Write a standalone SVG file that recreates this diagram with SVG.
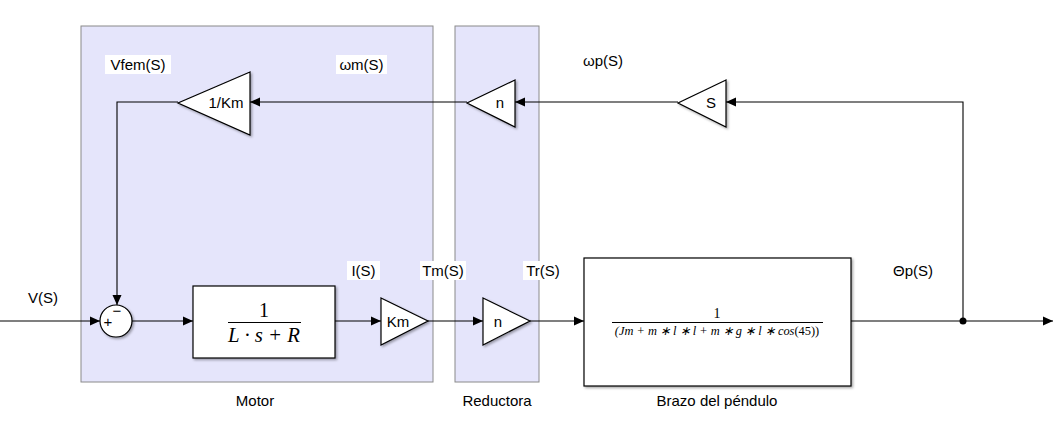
<svg xmlns="http://www.w3.org/2000/svg" width="1055" height="423" viewBox="0 0 1055 423">
<style>
.sub{fill:#e5e5fb;stroke:#8a8a8a;stroke-width:1}
.blk{fill:#fff;stroke:#000;stroke-width:1.2;filter:url(#sh)}
.ln{fill:none;stroke:#000;stroke-width:1.1}
.t{font-family:"Liberation Sans",Arial,sans-serif;font-size:15px;fill:#000}
.lb{fill:#fff}
.m{font-family:"Liberation Serif","Times New Roman",serif;fill:#000}
</style>
<defs>
<filter id="sh" x="-20%" y="-20%" width="140%" height="140%">
<feDropShadow dx="1.5" dy="1.5" stdDeviation="1" flood-color="#000" flood-opacity="0.35"/>
</filter>
<marker id="ar" markerWidth="10" markerHeight="10" refX="10" refY="5" orient="auto" markerUnits="userSpaceOnUse">
<path d="M0,0.5 L10,5 L0,9.5 Z" fill="#000"/>
</marker>
</defs>
<rect width="1055" height="423" fill="#fff"/>
<g id="motor">
<rect class="sub" x="81" y="26" width="352" height="356"/>
<text class="t" x="255" y="406" text-anchor="middle">Motor</text>
</g>
<g id="reductora">
<rect class="sub" x="455" y="26" width="84" height="356"/>
<text class="t" x="497" y="406" text-anchor="middle">Reductora</text>
</g>
<g id="connectors">
<path class="ln" d="M0,321 H100" marker-end="url(#ar)"/>
<path class="ln" d="M132,321 H193" marker-end="url(#ar)"/>
<path class="ln" d="M335,321 H381" marker-end="url(#ar)"/>
<path class="ln" d="M428,321 H483" marker-end="url(#ar)"/>
<path class="ln" d="M530,321 H584" marker-end="url(#ar)"/>
<path class="ln" d="M851,321 H1053" marker-end="url(#ar)"/>
<path class="ln" d="M963,321 V102 H726" marker-end="url(#ar)"/>
<path class="ln" d="M678,102 H515" marker-end="url(#ar)"/>
<path class="ln" d="M467,102 H250" marker-end="url(#ar)"/>
<path class="ln" d="M178,102 H117 V305" marker-end="url(#ar)"/>
<circle cx="963" cy="321" r="3.5" fill="#000"/>
</g>
<g id="sum">
<circle cx="116" cy="321" r="16" fill="#fff" stroke="#000" stroke-width="1.2" filter="url(#sh)"/>
<text class="t" x="108" y="327" text-anchor="middle" font-size="13">+</text>
<text class="t" x="117" y="316" text-anchor="middle" font-size="15">−</text>
</g>
<g id="tf_motor">
<rect class="blk" x="193" y="286" width="142" height="72"/>
<text class="m" x="264" y="317" text-anchor="middle" font-size="20">1</text>
<line x1="228" y1="322.5" x2="301" y2="322.5" stroke="#000" stroke-width="1.2"/>
<text class="m" x="264" y="342" text-anchor="middle" font-size="20" font-style="italic" textLength="72" lengthAdjust="spacingAndGlyphs">L · s + R</text>
</g>
<g id="gain_km">
<path class="blk" d="M381,298 L428,321 L381,345 Z"/>
<text class="t" x="398" y="327" text-anchor="middle">Km</text>
</g>
<g id="gain_n">
<path class="blk" d="M483,298 L530,321 L483,345 Z"/>
<text class="t" x="498" y="327" text-anchor="middle">n</text>
</g>
<g id="brazo">
<rect class="blk" x="584" y="258" width="267" height="128"/>
<text class="m" x="717" y="318" text-anchor="middle" font-size="14">1</text>
<line x1="612" y1="322.5" x2="823" y2="322.5" stroke="#000" stroke-width="1"/>
<text class="m" x="717" y="335" text-anchor="middle" font-size="12.4" font-style="italic">(Jm + m ∗ l ∗ l + m ∗ g ∗ l ∗ cos<tspan font-style="normal">(45))</tspan></text>
<text class="t" x="717" y="406" text-anchor="middle">Brazo del péndulo</text>
</g>
<g id="gain_s">
<path class="blk" d="M726,80 L678,103 L726,127 Z"/>
<text class="t" x="711" y="108" text-anchor="middle">S</text>
</g>
<g id="gain_n_fb">
<path class="blk" d="M515,80 L467,103 L515,127 Z"/>
<text class="t" x="500" y="108" text-anchor="middle">n</text>
</g>
<g id="gain_inv_km">
<path class="blk" d="M250,72 L178,103 L250,135 Z"/>
<text class="t" x="226" y="108" text-anchor="middle">1/Km</text>
</g>
<g id="labels">
<rect class="lb" x="105" y="55" width="66" height="19"/>
<text class="t" x="138" y="70" text-anchor="middle">Vfem(S)</text>
<rect class="lb" x="336" y="55" width="51" height="19"/>
<text class="t" x="361.5" y="70" text-anchor="middle">ωm(S)</text>
<text class="t" x="603" y="66" text-anchor="middle">ωp(S)</text>
<text class="t" x="43" y="303" text-anchor="middle">V(S)</text>
<rect class="lb" x="347" y="261" width="33" height="19"/>
<text class="t" x="363.5" y="276" text-anchor="middle">I(S)</text>
<rect class="lb" x="420" y="261" width="46" height="19"/>
<text class="t" x="443" y="276" text-anchor="middle">Tm(S)</text>
<rect class="lb" x="523" y="261" width="40" height="19"/>
<text class="t" x="543" y="276" text-anchor="middle">Tr(S)</text>
<text class="t" x="913" y="276" text-anchor="middle">Θp(S)</text>
</g>
</svg>
